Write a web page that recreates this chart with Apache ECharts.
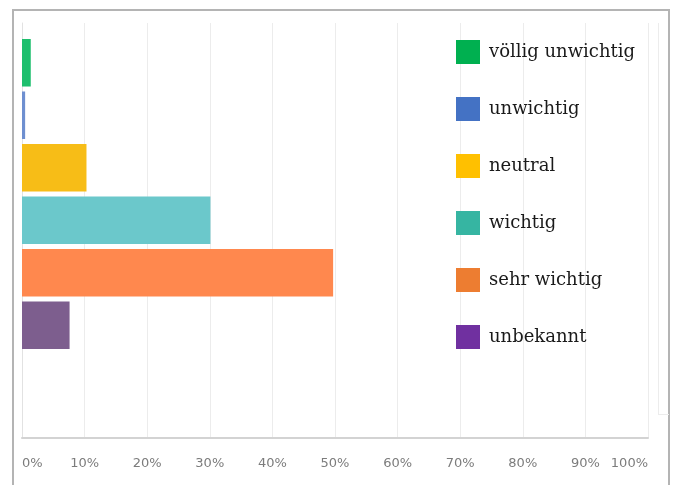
<!DOCTYPE html>
<html>
<head>
<meta charset="utf-8">
<script src="https://cdn.jsdelivr.net/npm/echarts@6/dist/echarts.min.js"></script>
<style>
  html, body { margin: 0; padding: 0; background: #fff; }
  #wrap { position: relative; width: 675px; height: 485px; overflow: hidden; }
  #frame { position: absolute; left: 12px; top: 9px; width: 658px; height: 500px; border: 2px solid #b4b4b4; box-sizing: border-box; }
  #side { position: absolute; left: 658px; top: 23px; width: 11px; height: 392px; border-left: 1px solid #ececec; border-bottom: 1px solid #ececec; box-sizing: border-box; }
  #chart { position: absolute; left: 0; top: 0; width: 675px; height: 485px; }
</style>
</head>
<body>
<div id="wrap">
  <div id="frame"></div>
  <div id="side"></div>
  <div id="chart"></div>
</div>
<script>
// ---- data ----
const categories = ['völlig unwichtig', 'unwichtig', 'neutral', 'wichtig', 'sehr wichtig', 'unbekannt'];
const values = [1.4, 0.5, 10.3, 30.1, 49.7, 7.6];
const barColors = ['#1dbf6d', '#6e8fd0', '#f7bd17', '#6bc8cb', '#ff884e', '#7d5e8e'];
const legendColors = ['#00b050', '#4472c4', '#ffc000', '#36b5a2', '#ed7d31', '#7030a0'];
const xMin = 0, xMax = 100, xStep = 10;

const chart = echarts.init(document.getElementById('chart'), null, { renderer: 'canvas' });

const series = categories.map((name, i) => ({
  name: name,
  type: 'bar',
  xAxisIndex: 1,
  yAxisIndex: 1,
  stack: 'all',
  barCategoryGap: '9.5%',
  itemStyle: { color: barColors[i] },
  data: categories.map((c, j) => (j === i ? values[i] : '-'))
}));

chart.setOption({
  animation: false,
  backgroundColor: 'transparent',
  grid: [
    { left: 22, right: 27, top: 23, bottom: 47 },
    { left: 22, right: 27, top: 36.5, height: 315 }
  ],
  xAxis: [
    {
      gridIndex: 0, type: 'value', min: xMin, max: xMax, interval: xStep,
      axisLine: { show: true, lineStyle: { color: '#d3d3d3', width: 2 } },
      axisTick: { show: false },
      splitLine: { show: true, lineStyle: { color: '#ececec', width: 1 } },
      axisLabel: {
        formatter: '{value}%', margin: 19, color: '#7c7c7c',
        fontFamily: 'DejaVu Sans', fontSize: 13,
        alignMinLabel: 'left', alignMaxLabel: 'right'
      }
    },
    {
      gridIndex: 1, type: 'value', min: xMin, max: xMax, show: false,
      splitLine: { show: false }
    }
  ],
  yAxis: [
    {
      gridIndex: 0, type: 'value', min: 0, max: 1,
      axisLine: { show: true, lineStyle: { color: '#e2e2e2', width: 1 } },
      axisTick: { show: false }, axisLabel: { show: false }, splitLine: { show: false }
    },
    {
      gridIndex: 1, type: 'category', data: categories, inverse: true, show: false
    }
  ],
  legend: {
    orient: 'vertical',
    left: 451,
    top: 35,
    itemWidth: 24,
    itemHeight: 24,
    itemGap: 33,
    icon: 'rect',
    selectedMode: false,
    data: categories.map((name, i) => ({ name: name, itemStyle: { color: legendColors[i] } })),
    textStyle: {
      fontFamily: 'DejaVu Serif',
      fontSize: 18,
      color: '#1a1a1a',
      padding: [0, 0, 0, 4]
    }
  },
  series: series
});
</script>
</body>
</html>
